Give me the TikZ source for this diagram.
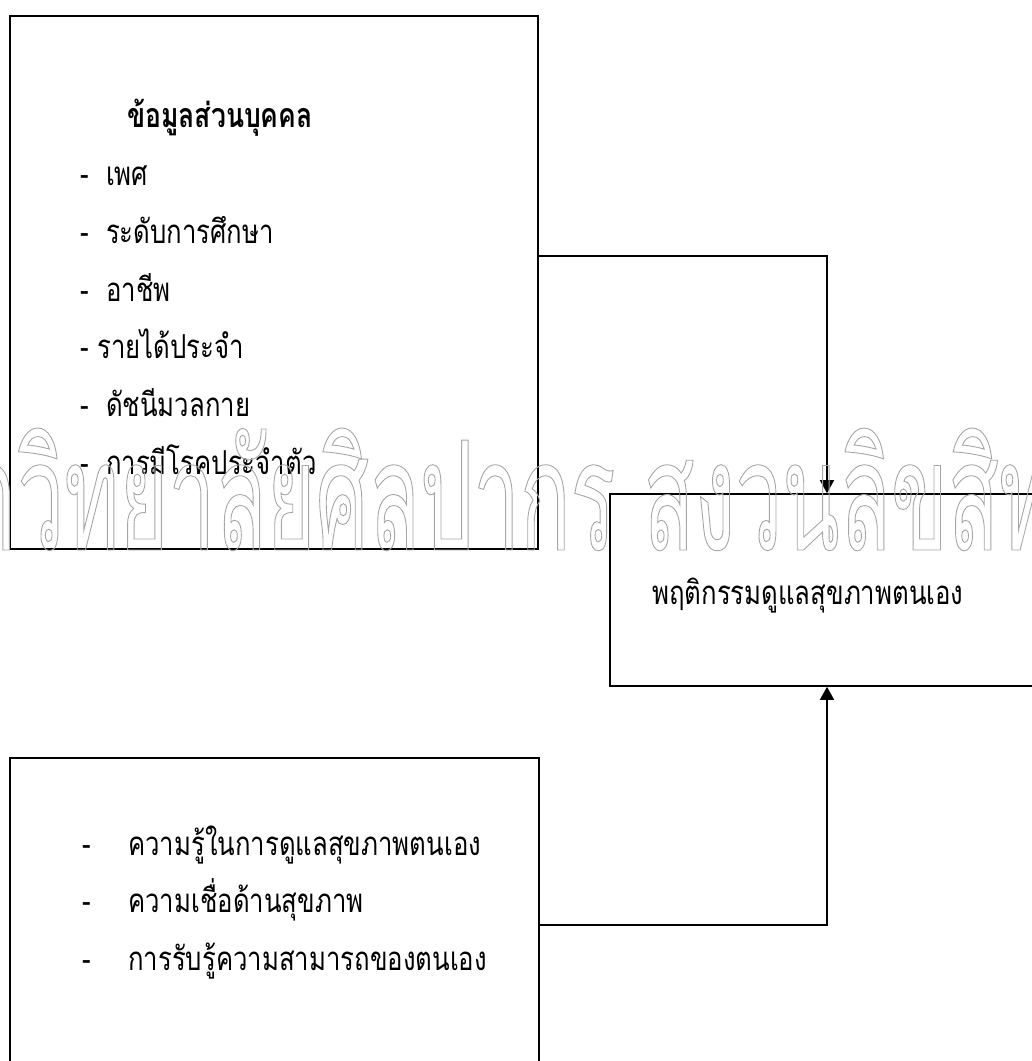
\documentclass[tikz,border=0pt]{standalone}
\usepackage{fontspec}
\setmainfont{Loma}[Script=Thai,FakeStretch=0.78]
\newfontfamily\stampfont{Loma}[Script=Thai,FakeStretch=0.55]
\usetikzlibrary{arrows.meta}
\newcommand{\hollow}{\special{pdf:literal direct 1 Tr 0.9 w}}

\begin{document}
\begin{tikzpicture}[x=1pt,y=-1pt,
  box/.style={draw,line width=1.6pt,inner sep=0pt},
  flow/.style={line width=1.6pt,-{Triangle[length=13pt,width=14pt]}},
  item/.style={anchor=base west,inner sep=0pt,font=\fontsize{33}{40}\selectfont},
  stampstyle/.style={anchor=base west,inner sep=0pt,text=black!35,font=\stampfont\fontsize{152}{160}\selectfont}]
  \useasboundingbox (0,0) rectangle (1032,1061);
  \clip (0,0) rectangle (1032,1061);
  \node [box,minimum width=528pt,minimum height=533pt] (personal) at (274,282.5) {};
  \node [box,minimum width=434pt,minimum height=192pt] (behaviour) at (827,590) {};
  \node [box,minimum width=529pt,minimum height=334pt] (knowledge) at (274.5,925) {};
  \node [item,font=\fontsize{34}{40}\selectfont\bfseries] (title) at (127,127) {ข้อมูลส่วนบุคคล};
  \node [item] (sex) at (80,185) {-\ \ เพศ};
  \node [item] (edu) at (80,243) {-\ \ ระดับการศึกษา};
  \node [item] (job) at (80,301) {-\ \ อาชีพ};
  \node [item] (income) at (80,358) {- รายได้ประจำ};
  \node [item] (bmi) at (80,416) {-\ \ ดัชนีมวลกาย};
  \node [item] (disease) at (80,474) {-\ \ การมีโรคประจำตัว};
  \node [item] (outcome) at (652,604) {พฤติกรรมดูแลสุขภาพตนเอง};
  \node [item] (know) at (82,855) {\makebox[46pt][l]{-}ความรู้ในการดูแลสุขภาพตนเอง};
  \node [item] (belief) at (82,912) {\makebox[46pt][l]{-}ความเชื่อด้านสุขภาพ};
  \node [item] (efficacy) at (82,970) {\makebox[46pt][l]{-}การรับรู้ความสามารถของตนเอง};
  \draw [flow] ([yshift=26.5pt]personal.east) -| (behaviour.north);
  \draw [flow] (knowledge.east) -| (behaviour.south);
  \node [stampstyle] (stamp) at (-140,550) {\hollow มหาวิทยาลัยศิลปากร สงวนลิขสิทธิ์};
\end{tikzpicture}
\end{document}
